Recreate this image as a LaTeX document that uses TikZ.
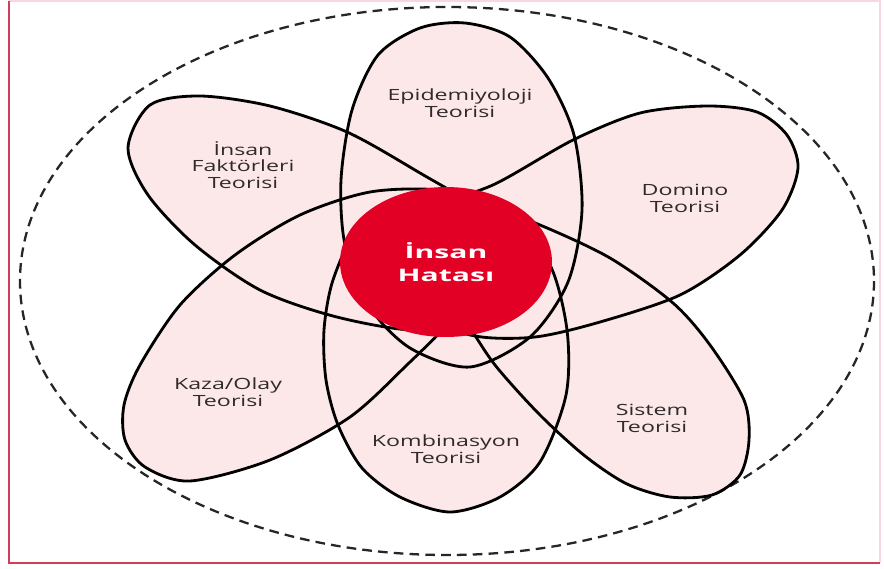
\documentclass[tikz,border=0pt]{standalone}
\usepackage{fontspec}
\setmainfont{Open Sans}
\newfontfamily\theoryfont[FakeStretch=1.5]{Open Sans}
\newfontfamily\hubfont[FakeStretch=1.75]{Open Sans}
\usetikzlibrary{shapes.geometric}

\definecolor{petalpink}{RGB}{252,232,232}
\definecolor{hatared}{RGB}{226,0,36}
\definecolor{framered}{RGB}{208,62,90}
\definecolor{framepink}{RGB}{250,214,224}
\definecolor{labelgray}{RGB}{48,42,45}

\tikzset {
    petal/.style={fill=petalpink},
    rim/.style={draw=black, line width=1.6pt},
    bigring/.style={draw=black!85, line width=1.3pt, dash pattern=on 5.5pt off 3.5pt},
    theory/.style={text=labelgray, align=center, font=\theoryfont\fontsize{8.8}{9.6}\selectfont},
    hub/.style={ellipse, fill=hatared, text=white, align=center, inner sep=0pt,
        minimum width=4.24cm, minimum height=3cm,
        font=\hubfont\bfseries\fontsize{9.8}{13}\selectfont}
}

% the six petals, once for the fill and once for the outline
\newcommand\allpetals[1]{%
    \path[#1] plot[smooth cycle] coordinates {(465,23) (510,37) (548,78) (574,135) (582,210) (568,282) (530,337) (470,367) (410,348) (368,305) (345,245) (341,180) (352,110) (378,55) (420,28)};
    \path[#1] plot[smooth cycle] coordinates {(445,200) (510,218) (550,265) (567,330) (566,395) (540,462) (500,497) (450,512) (400,497) (362,468) (338,425) (326,380) (324,330) (333,280) (358,228) (400,206)};
    \path[#1] plot[smooth cycle] coordinates {(128,148) (150,105) (200,96) (270,106) (347,132) (420,173) (480,210) (520,255) (525,295) (480,325) (410,330) (333,316) (260,290) (195,245) (148,195)};
    \path[#1] plot[smooth cycle] coordinates {(124,405) (140,365) (180,305) (235,255) (300,215) (370,192) (440,190) (500,205) (520,235) (495,280) (455,318) (410,362) (350,417) (270,460) (190,481) (145,467) (125,440)};
    \path[#1] plot[smooth cycle] coordinates {(798,168) (782,210) (740,255) (680,295) (600,322) (535,337) (475,336) (415,315) (375,280) (385,240) (430,208) (495,184) (573,140) (640,113) (707,106) (757,112) (787,135)};
    \path[#1] plot[smooth cycle] coordinates {(540,225) (610,258) (673,303) (710,345) (744,400) (749,440) (740,475) (712,495) (670,497) (627,484) (585,456) (540,415) (495,365) (465,320) (430,270) (440,225) (490,208)};
}

\begin{document}
\begin{tikzpicture}[x=0.02cm, y=-0.02cm]
    \useasboundingbox (0,0) rectangle (884,568);
    \fill[white] (0,0) rectangle (884,568);
    \draw[framepink, line width=1pt] (9,1) -- (880,1) -- (880,563);
    \draw[framered, line width=1.5pt] (9,1) -- (9,563) -- (880,563);

    \draw[bigring] (447,281) ellipse [x radius=427, y radius=274];

    \allpetals{petal}
    \allpetals{rim}

    \node[hub] (hata) at (446,262) {İnsan\\Hatası};

    \node[theory] (epi) at (460,103) {Epidemiyoloji\\Teorisi};
    \node[theory] (faktor) at (243,165) {İnsan\\Faktörleri\\Teorisi};
    \node[theory] (domino) at (685,198) {Domino\\Teorisi};
    \node[theory] (kaza) at (228,392) {Kaza/Olay\\Teorisi};
    \node[theory] (kombi) at (446,449) {Kombinasyon\\Teorisi};
    \node[theory] (sistem) at (652,418) {Sistem\\Teorisi};
\end{tikzpicture}
\end{document}
